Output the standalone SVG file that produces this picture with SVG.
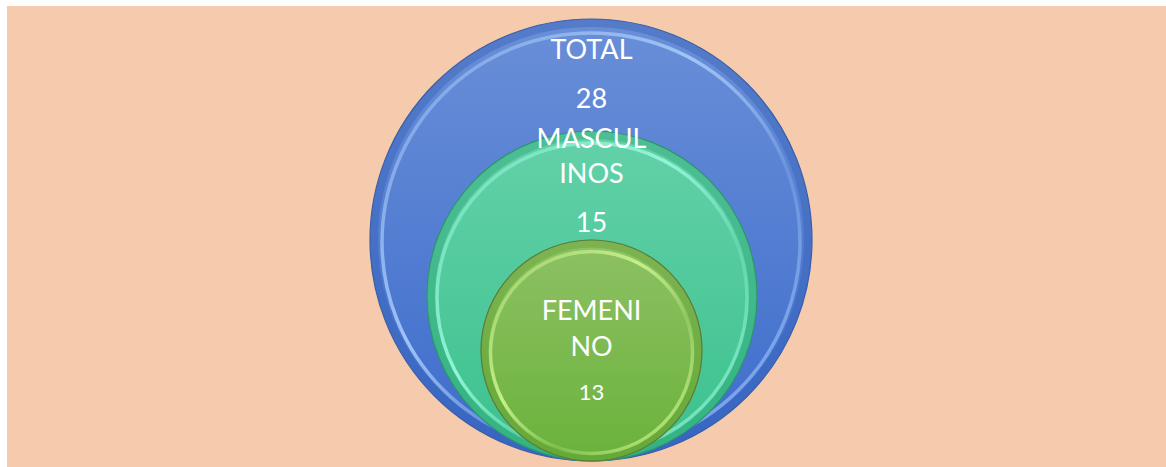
<svg xmlns="http://www.w3.org/2000/svg" width="1166" height="467" viewBox="0 0 1166 467">
  <defs>
    <linearGradient id="gBlue" x1="0" y1="0" x2="0" y2="1">
      <stop offset="0" stop-color="#6A8FD8"/>
      <stop offset="1" stop-color="#3C6CCB"/>
    </linearGradient>
    <linearGradient id="gTeal" x1="0" y1="0" x2="0" y2="1">
      <stop offset="0" stop-color="#64D1A9"/>
      <stop offset="1" stop-color="#3BC18D"/>
    </linearGradient>
    <linearGradient id="gGreen" x1="0" y1="0" x2="0" y2="1">
      <stop offset="0" stop-color="#8EC164"/>
      <stop offset="1" stop-color="#6AB23B"/>
    </linearGradient>
    <linearGradient id="hBlue" x1="0" y1="0" x2="1" y2="1">
      <stop offset="0" stop-color="#9FC2F5" stop-opacity="0.35"/>
      <stop offset="0.4" stop-color="#A5C8F8" stop-opacity="0.95"/>
      <stop offset="0.65" stop-color="#9FC2F5" stop-opacity="0.25"/>
      <stop offset="1" stop-color="#8FB8F5" stop-opacity="1"/>
    </linearGradient>
    <linearGradient id="hTeal" x1="0" y1="0" x2="1" y2="1">
      <stop offset="0" stop-color="#8FF3D5" stop-opacity="0.35"/>
      <stop offset="0.4" stop-color="#95F7DA" stop-opacity="0.95"/>
      <stop offset="0.65" stop-color="#8FF3D5" stop-opacity="0.25"/>
      <stop offset="1" stop-color="#8FF3D5" stop-opacity="1"/>
    </linearGradient>
    <linearGradient id="hGreen" x1="0" y1="0" x2="1" y2="1">
      <stop offset="0" stop-color="#C2EE88" stop-opacity="0.35"/>
      <stop offset="0.4" stop-color="#C8F28D" stop-opacity="0.95"/>
      <stop offset="0.65" stop-color="#C2EE88" stop-opacity="0.25"/>
      <stop offset="1" stop-color="#CDF88A" stop-opacity="1"/>
    </linearGradient>
  </defs>
  <style>
    .lbl { font-family: "Lato", "Open Sans", "Liberation Sans", sans-serif; fill: #FFFFFF; text-anchor: middle; }
    .big { font-size: 27px; }
    .small { font-size: 22px; }
    .hl { fill: none; stroke-width: 3.5; }
    .rim { fill: none; stroke-width: 8; stroke-opacity: 0.35; }
  </style>
  <rect x="0" y="0" width="1166" height="467" fill="#FFFFFF"/>
  <rect x="7" y="6" width="1159" height="461" fill="#F6CBAD"/>

  <g id="node-total">
    <circle cx="591" cy="240" r="221" fill="url(#gBlue)"/>
    <circle cx="591" cy="240" r="217" class="rim" stroke="#2F58AE"/>
    <circle cx="591" cy="240" r="221" fill="none" stroke="#3A5FA8" stroke-width="1.2"/>
    <circle cx="591" cy="242" r="209" class="hl" stroke="url(#hBlue)"/>
    <text class="lbl big" x="591.5" y="59">TOTAL</text>
    <text class="lbl big" x="591.5" y="108">28</text>
  </g>

  <g id="node-masculinos">
    <circle cx="592" cy="296" r="165" fill="url(#gTeal)"/>
    <circle cx="592" cy="296" r="161" class="rim" stroke="#249A6E"/>
    <circle cx="592" cy="296" r="165" fill="none" stroke="#2E9470" stroke-width="1.2"/>
    <circle cx="592" cy="298" r="155" class="hl" stroke="url(#hTeal)"/>
    <text class="lbl big" x="591.5" y="148">MASCUL</text>
    <text class="lbl big" x="591.5" y="183">INOS</text>
    <text class="lbl big" x="591.5" y="232">15</text>
  </g>

  <g id="node-femenino">
    <circle cx="591.5" cy="350.5" r="110.5" fill="url(#gGreen)"/>
    <circle cx="591.5" cy="350.5" r="107" class="rim" stroke="#5C9A30"/>
    <circle cx="591.5" cy="350.5" r="110.5" fill="none" stroke="#5F7A3A" stroke-width="1.2"/>
    <circle cx="591.5" cy="352.5" r="101" class="hl" stroke="url(#hGreen)"/>
    <text class="lbl big" x="591.5" y="320">FEMENI</text>
    <text class="lbl big" x="591.5" y="356">NO</text>
    <text class="lbl small" x="591.5" y="400">13</text>
  </g>

  <g id="connectors"/>
</svg>
